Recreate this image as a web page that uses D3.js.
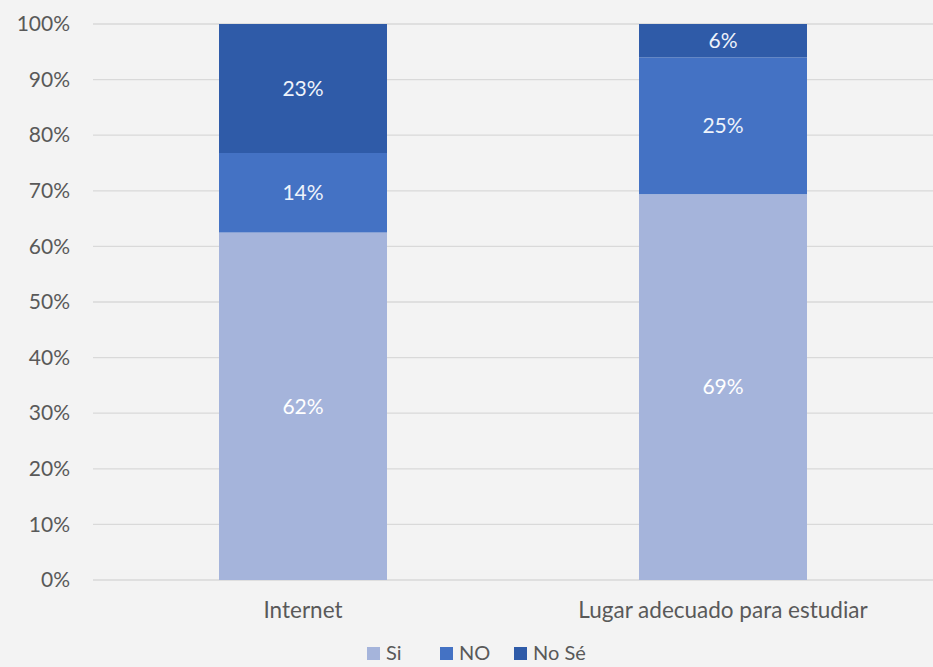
<!DOCTYPE html>
<html><head><meta charset="utf-8">
<script src="https://cdn.jsdelivr.net/npm/d3@7"></script>
<style>
html,body{margin:0;padding:0;background:#F3F3F3;}
svg{display:block;font-family:Lato, "Open Sans", sans-serif;}
</style></head>
<body><svg id="c" width="933" height="667"></svg>
<script>
const categories = ["Internet", "Lugar adecuado para estudiar"];
const seriesNames = ["Si", "NO", "No Sé"];
const siValues = [62.5, 69.4];
const noValues = [14.3, 24.6];
const noseValues = [23.2, 6.0];
const labelSi = ["62%", "69%"];
const labelNo = ["14%", "25%"];
const labelNose = ["23%", "6%"];
const yTicks = [0,10,20,30,40,50,60,70,80,90,100];
const colors = ["#A5B4DB", "#4472C4", "#2F5BA8"];

const W = 933, H = 667;
const m = {left: 93, right: 0, top: 24, bottom: 87};
const svg = d3.select("#c");
svg.append("rect").attr("width", W).attr("height", H).attr("fill", "#F3F3F3");

const x = d3.scaleBand().domain(categories).range([m.left, W - m.right]).paddingInner(0.6).paddingOuter(0.3);
const y = d3.scaleLinear().domain([0, 100]).range([H - m.bottom, m.top]);

// gridlines
svg.append("g").selectAll("line").data(yTicks).join("line")
  .attr("x1", m.left).attr("x2", W - m.right)
  .attr("y1", d => y(d)).attr("y2", d => y(d))
  .attr("stroke", "#D9D9D9").attr("stroke-width", 1.3);

// y axis labels
const yAxis = d3.axisLeft(y).tickValues(yTicks).tickFormat(d => d + "%").tickSize(0).tickPadding(23);
const ya = svg.append("g").attr("transform", `translate(${m.left},0)`).call(yAxis);
ya.select(".domain").remove();
ya.selectAll("text").attr("fill", "#595959").style("font-size", "21px").style("font-family", "Lato, sans-serif");

// x axis labels
const xAxis = d3.axisBottom(x).tickSize(0).tickPadding(22);
const xa = svg.append("g").attr("transform", `translate(0,${y(0)})`).call(xAxis);
xa.select(".domain").remove();
xa.selectAll("text").attr("fill", "#595959").style("font-size", "22.5px").style("font-family", "Lato, sans-serif");

const rows = categories.map((c, i) => ({cat: c, "Si": siValues[i], "NO": noValues[i], "No Sé": noseValues[i]}));
const labels = [labelSi, labelNo, labelNose];
const stack = d3.stack().keys(seriesNames)(rows);

const gs = svg.append("g").selectAll("g").data(stack).join("g").attr("fill", (d, i) => colors[i]);
gs.selectAll("rect").data(d => d).join("rect")
  .attr("x", d => x(d.data.cat)).attr("width", x.bandwidth())
  .attr("y", d => y(d[1])).attr("height", d => y(d[0]) - y(d[1]));

stack.forEach((s, si) => {
  svg.append("g").selectAll("text").data(s).join("text")
    .attr("x", d => x(d.data.cat) + x.bandwidth() / 2)
    .attr("y", d => (y(d[0]) + y(d[1])) / 2)
    .attr("dy", "0.35em").attr("text-anchor", "middle")
    .attr("fill", si === 0 ? "#FFFFFF" : "#EEF3FB")
    .style("font-size", "21px")
    .text((d, i) => labels[si][i]);
});

// legend
const legendY = 653;
const legItems = [{n: "Si", x: 367}, {n: "NO", x: 440}, {n: "No Sé", x: 514}];
const lg = svg.append("g");
legItems.forEach((it, i) => {
  lg.append("rect").attr("x", it.x).attr("y", legendY - 6).attr("width", 13).attr("height", 13).attr("fill", colors[i]);
  lg.append("text").attr("x", it.x + 19).attr("y", legendY).attr("dy", "0.35em")
    .attr("fill", "#595959").style("font-size", "20px").text(it.n);
});
</script></body></html>
